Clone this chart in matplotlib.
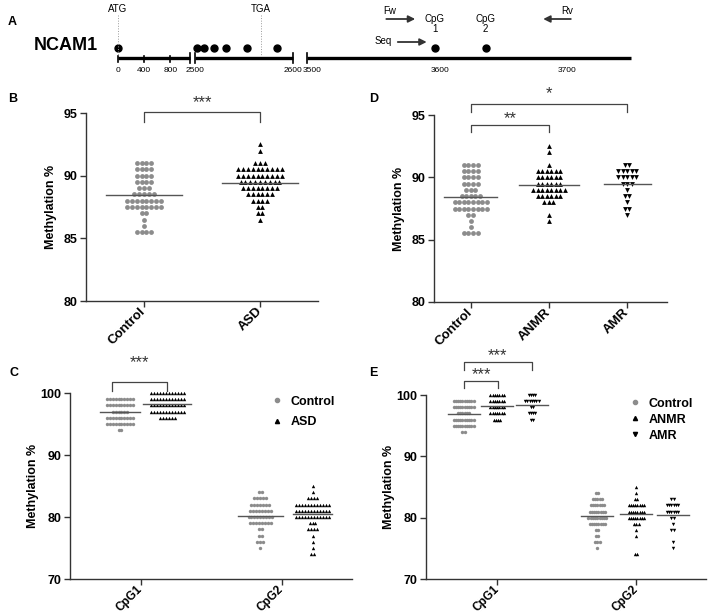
import numpy as np
import matplotlib
matplotlib.use('Agg')
import matplotlib.pyplot as plt
from matplotlib.lines import Line2D

plt.rcParams['font.family'] = ['Liberation Sans', 'DejaVu Sans']
plt.rcParams['font.weight'] = 'bold'
plt.rcParams['axes.labelweight'] = 'bold'
plt.rcParams['font.size'] = 8

# ---- data: (value, count) rows of each dot plot ----
ctrl_vals = [91.0, 90.5, 90.0, 89.5, 89.0, 88.5, 88.0, 87.5, 87.0, 86.5, 86.0, 85.5]
ctrl_counts = [4, 4, 4, 4, 3, 5, 8, 8, 2, 1, 1, 4]
asd_vals = [92.5, 92.0, 91.0, 90.5, 90.0, 89.5, 89.0, 88.5, 88.0, 87.5, 87.0, 86.5]
asd_counts = [1, 1, 3, 10, 10, 9, 8, 6, 4, 2, 2, 1]
anmr_vals = [92.5, 92.0, 91.0, 90.5, 90.0, 89.5, 89.0, 88.5, 88.0, 87.0, 86.5]
anmr_counts = [1, 1, 1, 6, 6, 6, 8, 6, 3, 1, 1]
amr_vals = [91.0, 90.5, 90.0, 89.5, 89.0, 88.5, 88.0, 87.5, 87.0]
amr_counts = [2, 5, 5, 3, 1, 2, 1, 2, 1]

c1_ctrl_vals = [99, 98, 97, 96, 95, 94]
c1_ctrl_counts = [10, 10, 6, 10, 10, 2]
c1_asd_vals = [100, 99, 98, 97, 96]
c1_asd_counts = [12, 12, 12, 12, 6]
c2_ctrl_vals = [84, 83, 82, 81, 80, 79, 78, 77, 76, 75]
c2_ctrl_counts = [2, 5, 7, 8, 9, 8, 2, 2, 3, 1]
c2_asd_vals = [85, 84, 83, 82, 81, 80, 79, 78, 77, 76, 75, 74]
c2_asd_counts = [1, 1, 4, 12, 12, 12, 3, 4, 1, 1, 1, 2]
c1_anmr_vals = [100, 99, 98, 97, 96]
c1_anmr_counts = [7, 7, 7, 7, 4]
c1_amr_vals = [100, 99, 98, 97, 96]
c1_amr_counts = [4, 7, 2, 4, 2]
c2_anmr_vals = [85, 84, 83, 82, 81, 80, 79, 78, 77, 74]
c2_anmr_counts = [1, 1, 2, 8, 8, 8, 3, 1, 1, 2]
c2_amr_vals = [83, 82, 81, 80, 79, 78, 76, 75]
c2_amr_counts = [2, 6, 6, 2, 1, 2, 1, 1]

# gene map (bp positions)
seg_bp = [(0, 1100), (2500, 2600), (3496, 3750)]
map_ticks = [0, 400, 800, 2500, 2600, 3500, 3600, 3700]
cpg_sites = [0, 2502, 2509, 2519, 2532, 2553, 2584, 3596, 3636]
atg_bp, tga_bp = 0, 2567
fw_bp = (3556, 3583)
seq_bp = (3565, 3592)
rv_bp = (3705, 3679)

GREY = '#8c8c8c'
W, H = 708, 615
fig = plt.figure(figsize=(W / 100, H / 100), dpi=100)


def px_axes(l, t, r, b):
    return fig.add_axes([l / W, 1 - b / H, (r - l) / W, (b - t) / H])


def bp2x(bp):
    return np.interp(bp, [0, 1100, 2500, 2600, 3496, 3750],
                     [118, 190, 195, 293, 307, 631])


# ---- panel A ----
axA = px_axes(0, 0, W, 80)
axA.set_xlim(0, W)
axA.set_ylim(80, 0)
axA.axis('off')
LY = 58
for s, e in seg_bp:
    axA.plot([bp2x(s), bp2x(e)], [LY, LY], color='black', lw=2.4, solid_capstyle='butt')
    for b in (s, e):
        if b not in (0, 3750):
            axA.plot([bp2x(b)] * 2, [LY - 5, LY + 5], color='black', lw=1.2)
for t in map_ticks[:3]:
    axA.plot([bp2x(t)] * 2, [LY - 2, LY + 4], color='black', lw=1.2)
for t in map_ticks:
    axA.text(bp2x(t), 71, str(t), ha='center', va='center', fontsize=6, weight='normal')
axA.plot(bp2x(np.array(cpg_sites)), [48] * len(cpg_sites), 'o', color='black', ms=5)
for bp, lab in [(atg_bp, 'ATG'), (tga_bp, 'TGA')]:
    axA.plot([bp2x(bp)] * 2, [15, LY - 2], color='#9a9a9a', lw=0.7, ls=':')
    axA.text(bp2x(bp), 9, lab, ha='center', va='center', fontsize=7, weight='normal')
for bp, lab in [(cpg_sites[-2], 'CpG\n1'), (cpg_sites[-1], 'CpG\n2')]:
    axA.text(bp2x(bp), 24, lab, ha='center', va='center', fontsize=7, weight='normal',
             linespacing=1.05)
arrow = dict(arrowstyle='-|>', color='#333333', lw=1.3, mutation_scale=10)
axA.annotate('', xy=(bp2x(fw_bp[1]), 19), xytext=(bp2x(fw_bp[0]), 19), arrowprops=arrow)
axA.annotate('', xy=(bp2x(seq_bp[1]), 42), xytext=(bp2x(seq_bp[0]), 42), arrowprops=arrow)
axA.annotate('', xy=(bp2x(rv_bp[1]), 19), xytext=(bp2x(rv_bp[0]), 19), arrowprops=arrow)
axA.text(bp2x(fw_bp[0]), 11, 'Fw', ha='left', va='center', fontsize=7, weight='normal')
axA.text(bp2x(seq_bp[0]) - 3, 41, 'Seq', ha='right', va='center', fontsize=7, weight='normal')
axA.text(bp2x(rv_bp[0]), 11, 'Rv', ha='right', va='center', fontsize=7, weight='normal')
axA.text(34, 46, 'NCAM1', ha='left', va='center', fontsize=13,
         family=['Liberation Sans Narrow', 'Liberation Sans'])


# ---- helpers ----
def swarm(ax, x0, vals, counts, dx, marker, color, s, half):
    xs, ys = [], []
    for v, n in zip(vals, counts):
        xs += list(x0 + (np.arange(n) - (n - 1) / 2) * dx)
        ys += [v] * n
    ax.scatter(xs, ys, marker=marker, color=color, s=s, linewidths=0, zorder=3, clip_on=False)
    m = np.repeat(vals, counts).mean()
    ax.plot([x0 - half, x0 + half], [m, m], color='#555555', lw=1, zorder=4)


def bracket(ax, x1, x2, ytop, yleg, ytxt, txt):
    ax.plot([x1, x1, x2, x2], [yleg, ytop, ytop, yleg], color='#444444', lw=0.9, clip_on=False)
    ax.text((x1 + x2) / 2, ytxt, txt, ha='center', va='center', fontsize=12, color='#333333',
            weight='normal')


def style(ax, ylim, yticks, xlim, xt, xtl, lpad, xfs):
    ax.set_ylim(*ylim)
    ax.set_xlim(*xlim)
    ax.set_yticks(yticks)
    ax.set_xticks(xt)
    ax.set_xticklabels(xtl, rotation=45, ha='right', va='center', rotation_mode='anchor',
                       fontsize=xfs, fontweight='bold')
    plt.setp(ax.get_yticklabels(), fontweight='bold', fontsize=9)
    for sp in ('top', 'right'):
        ax.spines[sp].set_visible(False)
    for sp in ('left', 'bottom'):
        ax.spines[sp].set_color('#333333')
        ax.spines[sp].set_linewidth(1)
    ax.tick_params(length=4, width=1, color='#333333')
    ax.tick_params(axis='x', pad=2)
    ax.tick_params(axis='y', pad=2)
    ax.set_ylabel('Methylation %', fontsize=9, labelpad=lpad)


# ---- panel B ----
axB = px_axes(86, 113, 318, 301)
swarm(axB, 0, ctrl_vals, ctrl_counts, 0.042, 'o', GREY, 12, 0.33)
swarm(axB, 1, asd_vals, asd_counts, 0.042, '^', 'black', 12, 0.33)
style(axB, (80, 95), [80, 85, 90, 95], (-0.5, 1.5), [0, 1], ['Control', 'ASD'], 5, 9.5)
bracket(axB, 0, 1, 95.1, 94.3, 95.85, '***')

# ---- panel D ----
axD = px_axes(434, 115, 667, 302)
swarm(axD, 0, ctrl_vals, ctrl_counts, 0.058, 'o', GREY, 12, 0.34)
swarm(axD, 1, anmr_vals, anmr_counts, 0.058, '^', 'black', 12, 0.38)
swarm(axD, 2, amr_vals, amr_counts, 0.058, 'v', 'black', 12, 0.3)
style(axD, (80, 95), [80, 85, 90, 95], (-0.47, 2.51), [0, 1, 2],
      ['Control', 'ANMR', 'AMR'], 5, 9.5)
bracket(axD, 0, 1, 94.2, 93.6, 94.7, '**')
bracket(axD, 0, 2, 95.9, 95.25, 96.75, '*')

# ---- panel C ----
axC = px_axes(70, 393, 352, 579)
swarm(axC, -0.145, c1_ctrl_vals, c1_ctrl_counts, 0.02, 'o', GREY, 6, 0.14)
swarm(axC, 0.19, c1_asd_vals, c1_asd_counts, 0.021, '^', 'black', 6, 0.17)
swarm(axC, 0.85, c2_ctrl_vals, c2_ctrl_counts, 0.021, 'o', GREY, 6, 0.16)
swarm(axC, 1.22, c2_asd_vals, c2_asd_counts, 0.021, '^', 'black', 6, 0.14)
style(axC, (70, 100), [70, 80, 90, 100], (-0.5, 1.5), [0, 1], ['CpG1', 'CpG2'], 1, 8.5)
bracket(axC, -0.2, 0.19, 101.7, 100.3, 104.9, '***')

# ---- panel E ----
axE = px_axes(426, 395, 706, 579)
for x0, v, c, mk, col in [(-0.24, c1_ctrl_vals, c1_ctrl_counts, 'o', GREY),
                          (0.0, c1_anmr_vals, c1_anmr_counts, '^', 'black'),
                          (0.25, c1_amr_vals, c1_amr_counts, 'v', 'black'),
                          (0.72, c2_ctrl_vals, c2_ctrl_counts, 'o', GREY),
                          (1.0, c2_anmr_vals, c2_anmr_counts, '^', 'black'),
                          (1.26, c2_amr_vals, c2_amr_counts, 'v', 'black')]:
    swarm(axE, x0, v, c, 0.016, mk, col, 6, 0.115)
style(axE, (70, 100), [70, 80, 90, 100], (-0.51, 1.5), [0, 1], ['CpG1', 'CpG2'], 1, 8.5)
bracket(axE, -0.24, 0.01, 102.3, 101.1, 103.4, '***')
bracket(axE, -0.24, 0.25, 105.3, 104.1, 106.4, '***')

# legends
hc = Line2D([], [], ls='', marker='o', color=GREY, ms=3)
ht = Line2D([], [], ls='', marker='^', color='black', ms=3)
hv = Line2D([], [], ls='', marker='v', color='black', ms=3)
axC.legend([hc, ht], ['Control', 'ASD'], loc='upper left', bbox_to_anchor=(0.69, 1.02),
           frameon=False, fontsize=9, handlelength=1, handletextpad=0.6, labelspacing=0.68,
           borderpad=0)
axE.legend([hc, ht, hv], ['Control', 'ANMR', 'AMR'], loc='upper left',
           bbox_to_anchor=(0.7, 1.02), frameon=False, fontsize=9, handlelength=1,
           handletextpad=0.6, labelspacing=0.32, borderpad=0)

for lab, x, y in [('A', 8, 22), ('B', 8, 99), ('D', 369, 99), ('C', 10, 373), ('E', 369, 373)]:
    fig.text(x / W, 1 - y / H, lab, ha='left', va='center', fontsize=9, weight='bold')

fig.savefig('out.png', dpi=100)
